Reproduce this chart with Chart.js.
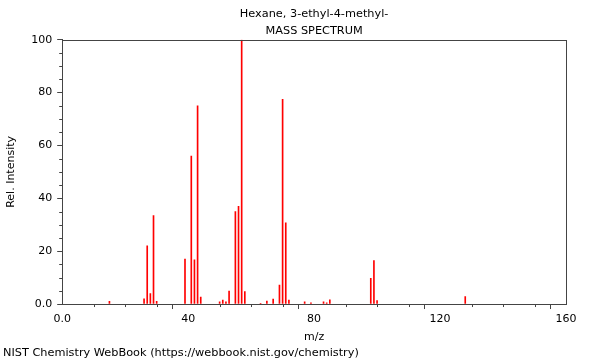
<!DOCTYPE html>
<html>
<head>
<meta charset="utf-8">
<script src="https://cdn.jsdelivr.net/npm/chart.js@4.4.1/dist/chart.umd.min.js"></script>
<style>
  html, body { margin: 0; padding: 0; background: #fff; }
  #wrap { position: relative; width: 600px; height: 360px; }
</style>
</head>
<body>
<div id="wrap"><canvas id="spec" width="600" height="360"></canvas></div>
<script>
// m/z values and relative intensities
const mz = [15, 26, 27, 28, 29, 30, 39, 41, 42, 43, 44, 50, 51, 52, 53, 55, 56, 57, 58,
            63, 65, 67, 69, 70, 71, 72, 77, 79, 83, 84, 85, 98, 99, 100, 128];
const intensity = [1, 2, 22, 4, 33.5, 1, 17, 56, 16.7, 75, 2.6, 0.8, 1.5, 0.8, 4.9, 35, 37, 100, 4.7,
                   0.3, 1.1, 1.9, 7.2, 77.5, 30.7, 1.5, 0.8, 0.5, 0.8, 0.5, 1.6, 9.7, 16.4, 1.3, 2.8];
const xTicks = [0, 40, 80, 120, 160];
const yTicks = [0, 20, 40, 60, 80, 100];

const font = { family: 'DejaVu Sans', size: 11 };
const axisColor = '#444';

function majorColor(list) {
    return c => (c.tick && list.indexOf(c.tick.value) >= 0) ? axisColor : 'rgba(0,0,0,0)';
}

// draws the short minor ticks and the frame round the plot
const framePlugin = {
    id: 'frame',
    afterDraw(chart) {
        const ctx = chart.ctx;
        const a = chart.chartArea;
        const xs = chart.scales.x, ys = chart.scales.y;
        ctx.save();
        ctx.strokeStyle = axisColor;
        ctx.lineWidth = 1;
        ctx.beginPath();
        xs.ticks.forEach(t => {
            if (xTicks.indexOf(t.value) < 0) {
                const px = Math.round(xs.getPixelForValue(t.value)) + 0.5;
                ctx.moveTo(px, a.bottom);
                ctx.lineTo(px, a.bottom + 3);
            }
        });
        ys.ticks.forEach(t => {
            if (yTicks.indexOf(t.value) < 0) {
                const py = Math.round(ys.getPixelForValue(t.value)) + 0.5;
                ctx.moveTo(a.left, py);
                ctx.lineTo(a.left - 3, py);
            }
        });
        ctx.stroke();
        ctx.strokeRect(Math.round(a.left) + 0.5, Math.round(a.top) + 0.5,
                       Math.round(a.right - a.left), Math.round(a.bottom - a.top));
        ctx.restore();
    }
};

new Chart(document.getElementById('spec'), {
    type: 'bar',
    data: {
        datasets: [{
            data: mz.map((m, i) => ({ x: m, y: intensity[i] })),
            backgroundColor: 'rgb(255, 0, 0)',
            borderWidth: 0,
            barThickness: 1
        }]
    },
    options: {
        responsive: false,
        animation: false,
        layout: { padding: { left: 3, right: 34, top: 0, bottom: 0 } },
        plugins: {
            legend: { display: false },
            tooltip: { enabled: false },
            title: {
                display: true,
                text: ['Hexane, 3-ethyl-4-methyl-', 'MASS SPECTRUM'],
                color: '#000',
                font: { family: 'DejaVu Sans', size: 11.3, weight: 'normal', lineHeight: 1.45 },
                fullSize: false,
                padding: { top: 6, bottom: 1 }
            },
            subtitle: {
                display: true,
                text: 'NIST Chemistry WebBook (https://webbook.nist.gov/chemistry)',
                position: 'bottom',
                align: 'start',
                color: '#000',
                font: { family: 'DejaVu Sans', size: 11.3 },
                padding: { top: 0, bottom: 0 }
            }
        },
        scales: {
            x: {
                type: 'linear',
                min: 0,
                max: 160,
                offset: false,
                border: { color: axisColor },
                grid: {
                    drawOnChartArea: false,
                    tickLength: 5,
                    tickColor: majorColor(xTicks)
                },
                ticks: {
                    stepSize: 10,
                    autoSkip: false,
                    maxRotation: 0,
                    color: '#000',
                    font: font,
                    padding: 4,
                    callback: v => xTicks.indexOf(v) < 0 ? '' : (v === 0 ? '0.0' : String(v))
                },
                title: { display: true, text: 'm/z', color: '#000', font: font, padding: { top: 0, bottom: 3 } }
            },
            y: {
                min: 0,
                max: 100,
                border: { color: axisColor },
                grid: {
                    drawOnChartArea: false,
                    tickLength: 5,
                    tickColor: majorColor(yTicks)
                },
                ticks: {
                    stepSize: 5,
                    autoSkip: false,
                    color: '#000',
                    font: font,
                    padding: 5,
                    callback: v => yTicks.indexOf(v) < 0 ? '' : (v === 0 ? '0.0' : String(v))
                },
                title: { display: true, text: 'Rel. Intensity', color: '#000', font: font, padding: { top: 2, bottom: 8 } }
            }
        }
    },
    plugins: [framePlugin]
});
</script>
</body>
</html>
